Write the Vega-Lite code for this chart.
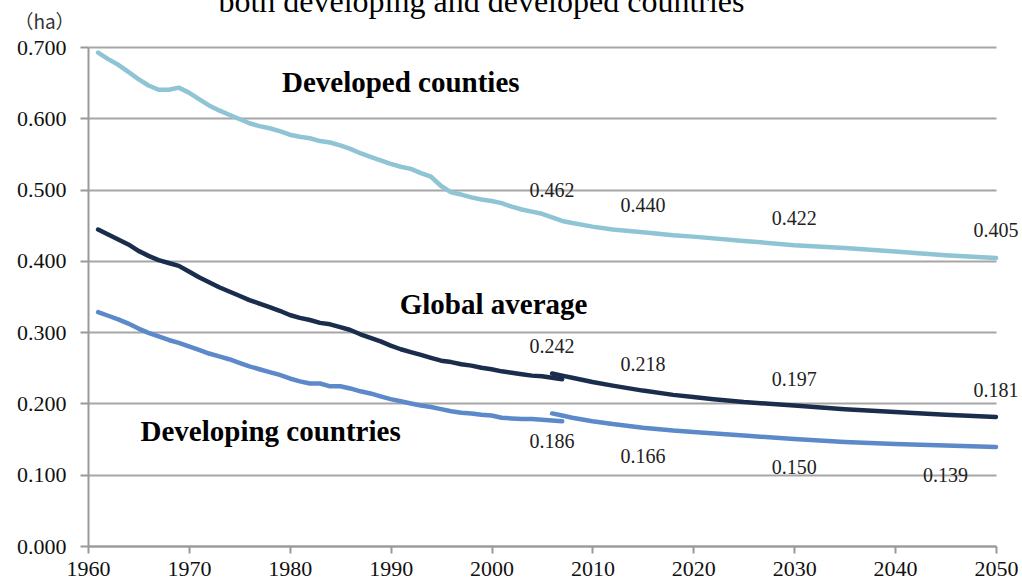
{
  "$schema": "https://vega.github.io/schema/vega-lite/v6.json",
  "width": 908,
  "height": 499,
  "autosize": {"type": "none"},
  "padding": {"left": 88, "top": 47, "right": 26, "bottom": 36},
  "background": "white",
  "config": {"view": {"stroke": null}},
  "datasets": {
    "lines": [
      {"series": "Developed", "seg": "hist", "year": 1961, "value": 0.692},
      {"series": "Developed", "seg": "hist", "year": 1962, "value": 0.683},
      {"series": "Developed", "seg": "hist", "year": 1963, "value": 0.675},
      {"series": "Developed", "seg": "hist", "year": 1964, "value": 0.665},
      {"series": "Developed", "seg": "hist", "year": 1965, "value": 0.655},
      {"series": "Developed", "seg": "hist", "year": 1966, "value": 0.646},
      {"series": "Developed", "seg": "hist", "year": 1967, "value": 0.640},
      {"series": "Developed", "seg": "hist", "year": 1968, "value": 0.640},
      {"series": "Developed", "seg": "hist", "year": 1969, "value": 0.643},
      {"series": "Developed", "seg": "hist", "year": 1970, "value": 0.636},
      {"series": "Developed", "seg": "hist", "year": 1971, "value": 0.627},
      {"series": "Developed", "seg": "hist", "year": 1972, "value": 0.618},
      {"series": "Developed", "seg": "hist", "year": 1973, "value": 0.611},
      {"series": "Developed", "seg": "hist", "year": 1974, "value": 0.605},
      {"series": "Developed", "seg": "hist", "year": 1975, "value": 0.599},
      {"series": "Developed", "seg": "hist", "year": 1976, "value": 0.593},
      {"series": "Developed", "seg": "hist", "year": 1977, "value": 0.589},
      {"series": "Developed", "seg": "hist", "year": 1978, "value": 0.586},
      {"series": "Developed", "seg": "hist", "year": 1979, "value": 0.582},
      {"series": "Developed", "seg": "hist", "year": 1980, "value": 0.577},
      {"series": "Developed", "seg": "hist", "year": 1981, "value": 0.574},
      {"series": "Developed", "seg": "hist", "year": 1982, "value": 0.572},
      {"series": "Developed", "seg": "hist", "year": 1983, "value": 0.568},
      {"series": "Developed", "seg": "hist", "year": 1984, "value": 0.566},
      {"series": "Developed", "seg": "hist", "year": 1985, "value": 0.562},
      {"series": "Developed", "seg": "hist", "year": 1986, "value": 0.557},
      {"series": "Developed", "seg": "hist", "year": 1987, "value": 0.551},
      {"series": "Developed", "seg": "hist", "year": 1988, "value": 0.546},
      {"series": "Developed", "seg": "hist", "year": 1989, "value": 0.541},
      {"series": "Developed", "seg": "hist", "year": 1990, "value": 0.536},
      {"series": "Developed", "seg": "hist", "year": 1991, "value": 0.532},
      {"series": "Developed", "seg": "hist", "year": 1992, "value": 0.529},
      {"series": "Developed", "seg": "hist", "year": 1993, "value": 0.523},
      {"series": "Developed", "seg": "hist", "year": 1994, "value": 0.518},
      {"series": "Developed", "seg": "hist", "year": 1995, "value": 0.505},
      {"series": "Developed", "seg": "hist", "year": 1996, "value": 0.496},
      {"series": "Developed", "seg": "hist", "year": 1997, "value": 0.493},
      {"series": "Developed", "seg": "hist", "year": 1998, "value": 0.489},
      {"series": "Developed", "seg": "hist", "year": 1999, "value": 0.486},
      {"series": "Developed", "seg": "hist", "year": 2000, "value": 0.484},
      {"series": "Developed", "seg": "hist", "year": 2001, "value": 0.481},
      {"series": "Developed", "seg": "hist", "year": 2002, "value": 0.476},
      {"series": "Developed", "seg": "hist", "year": 2003, "value": 0.472},
      {"series": "Developed", "seg": "hist", "year": 2004, "value": 0.469},
      {"series": "Developed", "seg": "hist", "year": 2005, "value": 0.466},
      {"series": "Developed", "seg": "hist", "year": 2006, "value": 0.461},
      {"series": "Developed", "seg": "hist", "year": 2007, "value": 0.456},
      {"series": "Developed", "seg": "hist", "year": 2008, "value": 0.453},
      {"series": "Developed", "seg": "hist", "year": 2010, "value": 0.448},
      {"series": "Developed", "seg": "hist", "year": 2012, "value": 0.444},
      {"series": "Developed", "seg": "hist", "year": 2015, "value": 0.440},
      {"series": "Developed", "seg": "hist", "year": 2018, "value": 0.436},
      {"series": "Developed", "seg": "hist", "year": 2020, "value": 0.434},
      {"series": "Developed", "seg": "hist", "year": 2025, "value": 0.428},
      {"series": "Developed", "seg": "hist", "year": 2030, "value": 0.422},
      {"series": "Developed", "seg": "hist", "year": 2035, "value": 0.418},
      {"series": "Developed", "seg": "hist", "year": 2040, "value": 0.413},
      {"series": "Developed", "seg": "hist", "year": 2045, "value": 0.408},
      {"series": "Developed", "seg": "hist", "year": 2050, "value": 0.404},

      {"series": "Global", "seg": "hist", "year": 1961, "value": 0.444},
      {"series": "Global", "seg": "hist", "year": 1962, "value": 0.437},
      {"series": "Global", "seg": "hist", "year": 1963, "value": 0.430},
      {"series": "Global", "seg": "hist", "year": 1964, "value": 0.423},
      {"series": "Global", "seg": "hist", "year": 1965, "value": 0.414},
      {"series": "Global", "seg": "hist", "year": 1966, "value": 0.407},
      {"series": "Global", "seg": "hist", "year": 1967, "value": 0.401},
      {"series": "Global", "seg": "hist", "year": 1968, "value": 0.397},
      {"series": "Global", "seg": "hist", "year": 1969, "value": 0.393},
      {"series": "Global", "seg": "hist", "year": 1970, "value": 0.385},
      {"series": "Global", "seg": "hist", "year": 1971, "value": 0.377},
      {"series": "Global", "seg": "hist", "year": 1972, "value": 0.370},
      {"series": "Global", "seg": "hist", "year": 1973, "value": 0.363},
      {"series": "Global", "seg": "hist", "year": 1974, "value": 0.357},
      {"series": "Global", "seg": "hist", "year": 1975, "value": 0.351},
      {"series": "Global", "seg": "hist", "year": 1976, "value": 0.345},
      {"series": "Global", "seg": "hist", "year": 1977, "value": 0.340},
      {"series": "Global", "seg": "hist", "year": 1978, "value": 0.335},
      {"series": "Global", "seg": "hist", "year": 1979, "value": 0.330},
      {"series": "Global", "seg": "hist", "year": 1980, "value": 0.324},
      {"series": "Global", "seg": "hist", "year": 1981, "value": 0.320},
      {"series": "Global", "seg": "hist", "year": 1982, "value": 0.317},
      {"series": "Global", "seg": "hist", "year": 1983, "value": 0.313},
      {"series": "Global", "seg": "hist", "year": 1984, "value": 0.311},
      {"series": "Global", "seg": "hist", "year": 1985, "value": 0.307},
      {"series": "Global", "seg": "hist", "year": 1986, "value": 0.303},
      {"series": "Global", "seg": "hist", "year": 1987, "value": 0.297},
      {"series": "Global", "seg": "hist", "year": 1988, "value": 0.292},
      {"series": "Global", "seg": "hist", "year": 1989, "value": 0.287},
      {"series": "Global", "seg": "hist", "year": 1990, "value": 0.281},
      {"series": "Global", "seg": "hist", "year": 1991, "value": 0.276},
      {"series": "Global", "seg": "hist", "year": 1992, "value": 0.272},
      {"series": "Global", "seg": "hist", "year": 1993, "value": 0.268},
      {"series": "Global", "seg": "hist", "year": 1994, "value": 0.264},
      {"series": "Global", "seg": "hist", "year": 1995, "value": 0.260},
      {"series": "Global", "seg": "hist", "year": 1996, "value": 0.258},
      {"series": "Global", "seg": "hist", "year": 1997, "value": 0.255},
      {"series": "Global", "seg": "hist", "year": 1998, "value": 0.253},
      {"series": "Global", "seg": "hist", "year": 1999, "value": 0.250},
      {"series": "Global", "seg": "hist", "year": 2000, "value": 0.248},
      {"series": "Global", "seg": "hist", "year": 2001, "value": 0.245},
      {"series": "Global", "seg": "hist", "year": 2002, "value": 0.243},
      {"series": "Global", "seg": "hist", "year": 2003, "value": 0.241},
      {"series": "Global", "seg": "hist", "year": 2004, "value": 0.239},
      {"series": "Global", "seg": "hist", "year": 2005, "value": 0.238},
      {"series": "Global", "seg": "hist", "year": 2006, "value": 0.236},
      {"series": "Global", "seg": "hist", "year": 2007, "value": 0.234},
      {"series": "Global", "seg": "proj", "year": 2006, "value": 0.242},
      {"series": "Global", "seg": "proj", "year": 2007, "value": 0.239},
      {"series": "Global", "seg": "proj", "year": 2008, "value": 0.236},
      {"series": "Global", "seg": "proj", "year": 2010, "value": 0.230},
      {"series": "Global", "seg": "proj", "year": 2012, "value": 0.225},
      {"series": "Global", "seg": "proj", "year": 2015, "value": 0.218},
      {"series": "Global", "seg": "proj", "year": 2018, "value": 0.212},
      {"series": "Global", "seg": "proj", "year": 2020, "value": 0.209},
      {"series": "Global", "seg": "proj", "year": 2022, "value": 0.206},
      {"series": "Global", "seg": "proj", "year": 2025, "value": 0.202},
      {"series": "Global", "seg": "proj", "year": 2030, "value": 0.197},
      {"series": "Global", "seg": "proj", "year": 2035, "value": 0.192},
      {"series": "Global", "seg": "proj", "year": 2040, "value": 0.188},
      {"series": "Global", "seg": "proj", "year": 2045, "value": 0.184},
      {"series": "Global", "seg": "proj", "year": 2050, "value": 0.181},

      {"series": "Developing", "seg": "hist", "year": 1961, "value": 0.328},
      {"series": "Developing", "seg": "hist", "year": 1962, "value": 0.323},
      {"series": "Developing", "seg": "hist", "year": 1963, "value": 0.318},
      {"series": "Developing", "seg": "hist", "year": 1964, "value": 0.312},
      {"series": "Developing", "seg": "hist", "year": 1965, "value": 0.305},
      {"series": "Developing", "seg": "hist", "year": 1966, "value": 0.299},
      {"series": "Developing", "seg": "hist", "year": 1967, "value": 0.294},
      {"series": "Developing", "seg": "hist", "year": 1968, "value": 0.289},
      {"series": "Developing", "seg": "hist", "year": 1969, "value": 0.285},
      {"series": "Developing", "seg": "hist", "year": 1970, "value": 0.280},
      {"series": "Developing", "seg": "hist", "year": 1971, "value": 0.275},
      {"series": "Developing", "seg": "hist", "year": 1972, "value": 0.270},
      {"series": "Developing", "seg": "hist", "year": 1973, "value": 0.266},
      {"series": "Developing", "seg": "hist", "year": 1974, "value": 0.262},
      {"series": "Developing", "seg": "hist", "year": 1975, "value": 0.257},
      {"series": "Developing", "seg": "hist", "year": 1976, "value": 0.252},
      {"series": "Developing", "seg": "hist", "year": 1977, "value": 0.248},
      {"series": "Developing", "seg": "hist", "year": 1978, "value": 0.244},
      {"series": "Developing", "seg": "hist", "year": 1979, "value": 0.240},
      {"series": "Developing", "seg": "hist", "year": 1980, "value": 0.235},
      {"series": "Developing", "seg": "hist", "year": 1981, "value": 0.231},
      {"series": "Developing", "seg": "hist", "year": 1982, "value": 0.228},
      {"series": "Developing", "seg": "hist", "year": 1983, "value": 0.228},
      {"series": "Developing", "seg": "hist", "year": 1984, "value": 0.224},
      {"series": "Developing", "seg": "hist", "year": 1985, "value": 0.224},
      {"series": "Developing", "seg": "hist", "year": 1986, "value": 0.221},
      {"series": "Developing", "seg": "hist", "year": 1987, "value": 0.217},
      {"series": "Developing", "seg": "hist", "year": 1988, "value": 0.214},
      {"series": "Developing", "seg": "hist", "year": 1989, "value": 0.210},
      {"series": "Developing", "seg": "hist", "year": 1990, "value": 0.206},
      {"series": "Developing", "seg": "hist", "year": 1991, "value": 0.203},
      {"series": "Developing", "seg": "hist", "year": 1992, "value": 0.200},
      {"series": "Developing", "seg": "hist", "year": 1993, "value": 0.197},
      {"series": "Developing", "seg": "hist", "year": 1994, "value": 0.195},
      {"series": "Developing", "seg": "hist", "year": 1995, "value": 0.192},
      {"series": "Developing", "seg": "hist", "year": 1996, "value": 0.189},
      {"series": "Developing", "seg": "hist", "year": 1997, "value": 0.187},
      {"series": "Developing", "seg": "hist", "year": 1998, "value": 0.186},
      {"series": "Developing", "seg": "hist", "year": 1999, "value": 0.184},
      {"series": "Developing", "seg": "hist", "year": 2000, "value": 0.183},
      {"series": "Developing", "seg": "hist", "year": 2001, "value": 0.180},
      {"series": "Developing", "seg": "hist", "year": 2002, "value": 0.179},
      {"series": "Developing", "seg": "hist", "year": 2003, "value": 0.178},
      {"series": "Developing", "seg": "hist", "year": 2004, "value": 0.178},
      {"series": "Developing", "seg": "hist", "year": 2005, "value": 0.177},
      {"series": "Developing", "seg": "hist", "year": 2006, "value": 0.176},
      {"series": "Developing", "seg": "hist", "year": 2007, "value": 0.175},
      {"series": "Developing", "seg": "proj", "year": 2006, "value": 0.186},
      {"series": "Developing", "seg": "proj", "year": 2007, "value": 0.183},
      {"series": "Developing", "seg": "proj", "year": 2008, "value": 0.180},
      {"series": "Developing", "seg": "proj", "year": 2010, "value": 0.175},
      {"series": "Developing", "seg": "proj", "year": 2012, "value": 0.171},
      {"series": "Developing", "seg": "proj", "year": 2015, "value": 0.166},
      {"series": "Developing", "seg": "proj", "year": 2018, "value": 0.162},
      {"series": "Developing", "seg": "proj", "year": 2020, "value": 0.160},
      {"series": "Developing", "seg": "proj", "year": 2025, "value": 0.155},
      {"series": "Developing", "seg": "proj", "year": 2030, "value": 0.150},
      {"series": "Developing", "seg": "proj", "year": 2035, "value": 0.146},
      {"series": "Developing", "seg": "proj", "year": 2040, "value": 0.143},
      {"series": "Developing", "seg": "proj", "year": 2045, "value": 0.141},
      {"series": "Developing", "seg": "proj", "year": 2050, "value": 0.139}
    ],
    "valueLabels": [
      {"series": "Developed", "year": 2006, "value": 0.462, "pos": "above"},
      {"series": "Developed", "year": 2015, "value": 0.440, "pos": "above"},
      {"series": "Developed", "year": 2030, "value": 0.422, "pos": "above"},
      {"series": "Developed", "year": 2050, "value": 0.405, "pos": "above"},
      {"series": "Global", "year": 2006, "value": 0.242, "pos": "above"},
      {"series": "Global", "year": 2015, "value": 0.218, "pos": "above"},
      {"series": "Global", "year": 2030, "value": 0.197, "pos": "above"},
      {"series": "Global", "year": 2050, "value": 0.181, "pos": "above"},
      {"series": "Developing", "year": 2006, "value": 0.186, "pos": "below"},
      {"series": "Developing", "year": 2015, "value": 0.166, "pos": "below"},
      {"series": "Developing", "year": 2030, "value": 0.150, "pos": "below"},
      {"series": "Developing", "year": 2045, "value": 0.139, "pos": "below"}
    ],
    "seriesNames": [
      {"label": "Developed counties", "year": 1991, "value": 0.649},
      {"label": "Global average", "year": 2000.2, "value": 0.338},
      {"label": "Developing countries", "year": 1978.1, "value": 0.160}
    ],
    "titleRow": [
      {"label": "both developing and developed countries", "year": 1999, "value": 0.7487}
    ]
  },
  "layer": [
    {
      "data": {"name": "lines"},
      "mark": {"type": "line", "strokeWidth": 4.5, "strokeCap": "round", "strokeJoin": "round"},
      "encoding": {
        "x": {
          "field": "year", "type": "quantitative",
          "scale": {"domain": [1960, 2050], "nice": false, "zero": false},
          "axis": {
            "values": [1960, 1970, 1980, 1990, 2000, 2010, 2020, 2030, 2040, 2050],
            "format": "d", "title": null, "grid": false,
            "labelFont": "Liberation Serif", "labelFontSize": 22, "labelColor": "#111",
            "labelPadding": 5, "tickSize": 7, "tickColor": "#999", "tickWidth": 2,
            "domainColor": "#999", "domainWidth": 2, "labelFlush": false
          }
        },
        "y": {
          "field": "value", "type": "quantitative",
          "scale": {"domain": [0, 0.7], "nice": false, "zero": true},
          "axis": {
            "values": [0, 0.1, 0.2, 0.3, 0.4, 0.5, 0.6, 0.7],
            "format": ".3f", "grid": true, "gridColor": "#a6a6a6", "gridWidth": 2,
            "labelFont": "Liberation Serif", "labelFontSize": 22, "labelColor": "#111",
            "labelPadding": 14, "tickSize": 8, "tickColor": "#999", "tickWidth": 2,
            "domainColor": "#999", "domainWidth": 2, "labelFlush": false,
            "title": "（ha）", "titleAngle": 0, "titleX": -44, "titleY": -25,
            "titleAlign": "center", "titleBaseline": "middle",
            "titleFont": "Noto Sans CJK JP", "titleFontSize": 19, "titleFontWeight": "normal",
            "titleColor": "#333"
          }
        },
        "color": {
          "field": "series", "type": "nominal", "legend": null,
          "scale": {"domain": ["Developed", "Global", "Developing"], "range": ["#8ec4d4", "#1b2d4d", "#5c89c9"]}
        },
        "detail": {"field": "seg", "type": "nominal"}
      }
    },
    {
      "data": {"name": "valueLabels"},
      "transform": [{"filter": "datum.pos === 'above'"}],
      "mark": {"type": "text", "font": "Liberation Serif", "fontSize": 20, "color": "#222", "dy": -26, "align": "center", "baseline": "middle"},
      "encoding": {
        "x": {"field": "year", "type": "quantitative"},
        "y": {"field": "value", "type": "quantitative"},
        "text": {"field": "value", "type": "quantitative", "format": ".3f"}
      }
    },
    {
      "data": {"name": "valueLabels"},
      "transform": [{"filter": "datum.pos === 'below'"}],
      "mark": {"type": "text", "font": "Liberation Serif", "fontSize": 20, "color": "#222", "dy": 29, "align": "center", "baseline": "middle"},
      "encoding": {
        "x": {"field": "year", "type": "quantitative"},
        "y": {"field": "value", "type": "quantitative"},
        "text": {"field": "value", "type": "quantitative", "format": ".3f"}
      }
    },
    {
      "data": {"name": "seriesNames"},
      "mark": {"type": "text", "font": "Liberation Serif", "fontSize": 29, "fontWeight": "bold", "color": "#000", "align": "center", "baseline": "middle"},
      "encoding": {
        "x": {"field": "year", "type": "quantitative"},
        "y": {"field": "value", "type": "quantitative"},
        "text": {"field": "label", "type": "nominal"}
      }
    },
    {
      "data": {"name": "titleRow"},
      "mark": {"type": "text", "font": "Liberation Serif", "fontSize": 32, "color": "#000", "align": "center", "baseline": "alphabetic"},
      "encoding": {
        "x": {"field": "year", "type": "quantitative"},
        "y": {"field": "value", "type": "quantitative"},
        "text": {"field": "label", "type": "nominal"}
      }
    }
  ]
}
